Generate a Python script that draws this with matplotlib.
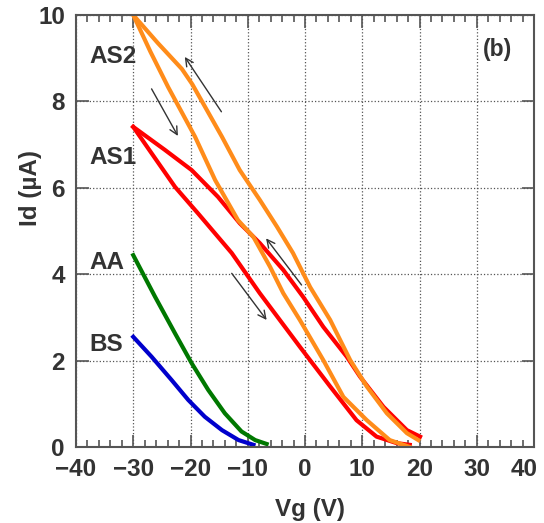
import matplotlib.pyplot as plt
import matplotlib.transforms as mtransforms
from matplotlib.ticker import MultipleLocator

plt.rcParams['font.family'] = ['Liberation Sans', 'DejaVu Sans']
plt.rcParams['font.weight'] = 'bold'

# BS (blue)
bs_vg = [-30, -26.8, -23.3, -20.4, -17.5, -14.5, -11.6, -9]
bs_id = [2.55, 2.09, 1.55, 1.09, 0.70, 0.39, 0.16, 0.05]

# AA (green)
aa_vg = [-30, -26.2, -22.7, -19.8, -16.9, -14, -11.1, -8.7, -6.7]
aa_id = [4.44, 3.48, 2.63, 1.94, 1.32, 0.78, 0.36, 0.16, 0.07]

# AS1 (red), upper branch and lower branch
as1_up_vg = [-30, -24.5, -19.8, -15.2, -11.4, -7.9, -3.8, -0.3, 3.2, 7.3, 9.6, 13.7, 17.8, 20.1]
as1_up_id = [7.41, 6.88, 6.41, 5.79, 5.18, 4.72, 4.10, 3.47, 2.78, 2.09, 1.63, 0.93, 0.39, 0.24]
as1_lo_vg = [-30, -26.8, -22.7, -18.7, -12.8, -7.9, -0.9, 4.4, 9.0, 12.5, 16, 18.3]
as1_lo_id = [7.41, 6.8, 6.02, 5.41, 4.49, 3.56, 2.32, 1.40, 0.62, 0.24, 0.09, 0.05]

# AS2 (orange), upper branch and lower branch
as2_up_vg = [-30, -25.7, -21.5, -19.7, -14.5, -11.4, -7.9, -4.9, -2.1, 0.9, 4.4, 7.9, 10.8, 14.3, 17.8, 19.8]
as2_up_id = [10, 9.35, 8.75, 8.4, 7.18, 6.41, 5.72, 5.10, 4.49, 3.70, 2.94, 2.01, 1.40, 0.78, 0.32, 0.16]
as2_lo_vg = [-30, -27, -23.9, -19.2, -15.7, -11.7, -9, -6.1, -3.8, -0.9, 3.2, 6.7, 10.8, 14.8, 18.3]
as2_lo_id = [10, 9.15, 8.33, 7.18, 6.18, 5.25, 4.86, 4.17, 3.56, 2.94, 2.01, 1.16, 0.62, 0.16, 0.0]

# arrows: (tail, head)
arrows = [((-14.6, 7.76), (-21.0, 9.03)),
          ((-26.8, 8.29), (-22.2, 7.2)),
          ((-0.6, 3.75), (-6.8, 4.83)),
          ((-12.8, 4.02), (-6.7, 2.94))]

labels = ['AS2', 'AS1', 'AA', 'BS']
label_y = [9.03, 6.69, 4.28, 2.38]

fig = plt.figure(figsize=(5.44, 5.23), dpi=100)
ax = fig.add_axes([76 / 544, 76 / 523, 458 / 544, 432 / 523])

lw = 3.0
ax.plot(bs_vg, bs_id, color='#0000cc', lw=lw)
ax.plot(aa_vg, aa_id, color='#007800', lw=lw)
ax.plot(as1_up_vg, as1_up_id, color='#ff0000', lw=lw)
ax.plot(as1_lo_vg, as1_lo_id, color='#ff0000', lw=lw)
ax.plot(as2_up_vg, as2_up_id, color='#ff8c1a', lw=lw)
ax.plot(as2_lo_vg, as2_lo_id, color='#ff8c1a', lw=lw)

for tail, head in arrows:
    ax.annotate('', xy=head, xytext=tail,
                arrowprops=dict(arrowstyle='->', color='#333333', lw=1.0,
                                mutation_scale=14, shrinkA=0, shrinkB=0))

for lab, y in zip(labels, label_y):
    ax.text(-37.7, y, lab, fontsize=17.5, fontweight='bold', color='#333333',
            va='center', ha='left')

ax.text(33.6, 9.19, '(b)', fontsize=16.5, fontweight='bold', color='#333333',
        ha='center', va='center')

ax.set_xlim(-40, 40)
ax.set_ylim(0, 10)
ax.set_xticks(range(-40, 41, 10))
ax.xaxis.set_minor_locator(MultipleLocator(2))
ax.yaxis.set_major_locator(MultipleLocator(2))
ax.grid(True, which='major', ls=':', color='#555555', lw=0.9)
ax.tick_params(which='both', direction='in', top=True, right=True,
               colors='#555555', labelcolor='#333333', labelsize=17.5, width=1.2)
ax.tick_params(which='major', length=9)
ax.tick_params(which='minor', length=5)
ax.tick_params(axis='x', pad=8)
ax.tick_params(axis='y', pad=8)
for s in ax.spines.values():
    s.set_color('#555555')
    s.set_linewidth(1.5)

# the "40" label sits a bit left so it stays inside the figure
fig.canvas.draw()
for t in ax.xaxis.get_major_ticks():
    if abs(t.get_loc() - 40) < 1e-6:
        t.label1.set_transform(t.label1.get_transform() +
                               mtransforms.ScaledTranslation(-10 / 100, 0, fig.dpi_scale_trans))

ax.set_xlabel('Vg (V)', fontsize=17.5, fontweight='bold', color='#333333')
ax.set_ylabel('Id (\u00b5A)', fontsize=17.5, fontweight='bold', color='#333333')
ax.yaxis.set_label_coords(-0.074, 0.6)
ax.xaxis.set_label_coords(0.51, -0.118)

fig.savefig('out.png', dpi=100)
